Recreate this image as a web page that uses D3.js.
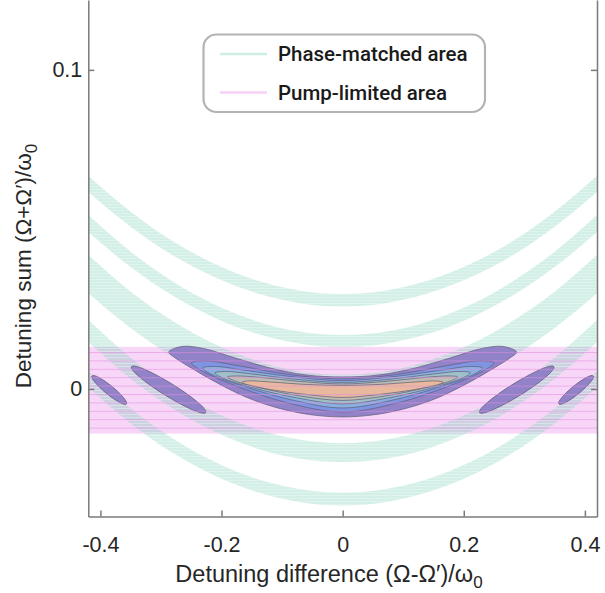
<!DOCTYPE html>
<html>
<head>
<meta charset="utf-8">
<script src="https://cdn.jsdelivr.net/npm/d3@7"></script>
<style>
  html, body { margin: 0; padding: 0; background: #fff; }
  svg { display: block; font-family: "Liberation Sans", Arial, sans-serif; }
</style>
</head>
<body>
<svg id="chart" width="605" height="593"></svg>
<script>
// ---- data ----
const xTicks = [-0.4, -0.2, 0, 0.2, 0.4];
const xTickLabels = ['-0.4', '-0.2', '0', '0.2', '0.4'];
const yTicks = [0, 0.1];
const yTickLabels = ['0', '0.1'];
const legendLabels = ['Phase-matched area', 'Pump-limited area'];

// pump-limited strip (detuning sum limits)
const pumpLimits = [-0.014, 0.0132];

// phase-matched bands: edges sampled at bandX
const bandX = [-0.42, -0.35, -0.28, -0.21, -0.14, -0.07, 0, 0.07, 0.14, 0.21, 0.28, 0.35, 0.42];
const band1Top = [0.0668, 0.0555, 0.0462, 0.0391, 0.0339, 0.0308, 0.0298, 0.0308, 0.0339, 0.0391, 0.0462, 0.0555, 0.0668];
const band1Bot = [0.0618, 0.0508, 0.0418, 0.0349, 0.0299, 0.0269, 0.0259, 0.0269, 0.0299, 0.0349, 0.0418, 0.0508, 0.0618];
const band2Top = [0.0545, 0.0430, 0.0336, 0.0263, 0.0211, 0.0179, 0.0169, 0.0179, 0.0211, 0.0263, 0.0336, 0.0430, 0.0545];
const band2Bot = [0.0492, 0.0382, 0.0292, 0.0222, 0.0172, 0.0142, 0.0132, 0.0142, 0.0172, 0.0222, 0.0292, 0.0382, 0.0492];
const band3Top = [0.0420, 0.0305, 0.0212, 0.0139, 0.0087, 0.0055, 0.0045, 0.0055, 0.0087, 0.0139, 0.0212, 0.0305, 0.0420];
const band3Bot = [0.0301, 0.0191, 0.0101, 0.0031, -0.0019, -0.0049, -0.0059, -0.0049, -0.0019, 0.0031, 0.0101, 0.0191, 0.0301];
const band4Top = [0.0216, 0.0098, 0.0001, -0.0074, -0.0127, -0.0159, -0.0170, -0.0159, -0.0127, -0.0074, 0.0001, 0.0098, 0.0216];
const band4Bot = [0.0147, 0.0032, -0.0062, -0.0135, -0.0187, -0.0219, -0.0229, -0.0219, -0.0187, -0.0135, -0.0062, 0.0032, 0.0147];
const band5Top = [0.0055, -0.0061, -0.0156, -0.0230, -0.0283, -0.0314, -0.0325, -0.0314, -0.0283, -0.0230, -0.0156, -0.0061, 0.0055];
const band5Bot = [0.0005, -0.0108, -0.0201, -0.0273, -0.0324, -0.0355, -0.0365, -0.0355, -0.0324, -0.0273, -0.0201, -0.0108, 0.0005];

// central contour levels, left half outline (top centre -> tip -> bottom centre), mirrored for the right half
const contour1 = [[0, 0.00376], [-0.06, 0.00439], [-0.12, 0.00658], [-0.18, 0.00987], [-0.23, 0.0127], [-0.265, 0.01332], [-0.287, 0.0116],
                  [-0.275, 0.00956], [-0.25, 0.00658], [-0.21, 0.00219], [-0.16, -0.00251], [-0.11, -0.0058], [-0.055, -0.0080], [0, -0.00878]];
const contour2 = [[0, 0.00313], [-0.09, 0.00455], [-0.17, 0.00721], [-0.225, 0.00878], [-0.2496, 0.00815],
                  [-0.235, 0.00596], [-0.18, 0.00125], [-0.09, -0.00439], [0, -0.00721]];
const contour3 = [[0, 0.0026], [-0.08, 0.00376], [-0.16, 0.0058], [-0.21, 0.00705], [-0.231, 0.00658],
                  [-0.218, 0.0047], [-0.165, 0.00094], [-0.08, -0.0036], [0, -0.00596]];
const contour4 = [[0, 0.00204], [-0.075, 0.00298], [-0.15, 0.0047], [-0.195, 0.00549], [-0.211, 0.00502],
                  [-0.198, 0.00345], [-0.15, 0.00047], [-0.075, -0.00282], [0, -0.0047]];
const contour5 = [[0, 0.00157], [-0.07, 0.00235], [-0.135, 0.0036], [-0.175, 0.00408], [-0.19, 0.00376],
                  [-0.178, 0.00251], [-0.135, 0.00031], [-0.07, -0.00219], [0, -0.0036]];
const contour6 = [[0, 0.0011], [-0.06, 0.00141], [-0.12, 0.00219], [-0.155, 0.00251], [-0.1665, 0.00204],
                  [-0.155, 0.00125], [-0.12, -0.00016], [-0.06, -0.00172], [0, -0.00266]];
const contourColors = ['#9283c9', '#7f95e1', '#89b0df', '#9fc0c9', '#bfbdb3', '#e9b99e'];

// side lobes: [x1, y1, x2, y2, thickness (in detuning-sum units)]
const sideLobes = [
  [-0.3488, 0.0070, -0.2260, -0.0074, 0.0041],
  [-0.4139, 0.0041, -0.3570, -0.0047, 0.0028],
  [0.2260, -0.0074, 0.3488, 0.0070, 0.0041],
  [0.3570, -0.0047, 0.4139, 0.0041, 0.0028]
];

// ---- layout ----
const svg = d3.select('#chart');
const x = d3.scaleLinear().domain([-0.42, 0.42]).range([88.3, 597]);
const y = d3.scaleLinear().domain([-0.04, 0.1219]).range([516.6, 0]);
const FONT = '"Liberation Sans", Arial, Helvetica, sans-serif';

const defs = svg.append('defs');
defs.append('clipPath').attr('id', 'plotClip')
  .append('rect')
  .attr('x', x(-0.42)).attr('y', 0)
  .attr('width', x(0.42) - x(-0.42)).attr('height', y(-0.04));

// faint horizontal hatching inside the phase-matched bands
const tealPat = defs.append('pattern').attr('id', 'tealStripes')
  .attr('patternUnits', 'userSpaceOnUse').attr('width', 8).attr('height', 3);
tealPat.append('rect').attr('y', 0).attr('width', 8).attr('height', 1).attr('fill', '#fff').attr('opacity', 0.3);

// pink hatching lines of the pump strip
const pinkPat = defs.append('pattern').attr('id', 'pinkStripes')
  .attr('patternUnits', 'userSpaceOnUse').attr('width', 8).attr('height', 8.4)
  .attr('y', 352);
pinkPat.append('rect').attr('y', 0).attr('width', 8).attr('height', 1).attr('fill', '#e08ae0').attr('opacity', 0.55);

const plot = svg.append('g').attr('clip-path', 'url(#plotClip)');

// pump-limited strip (base)
plot.append('rect')
  .attr('x', x(-0.42)).attr('width', x(0.42) - x(-0.42))
  .attr('y', y(pumpLimits[1])).attr('height', y(pumpLimits[0]) - y(pumpLimits[1]))
  .attr('fill', '#f7d6f7');

// phase-matched bands
const bands = [
  [band1Top, band1Bot], [band2Top, band2Bot], [band3Top, band3Bot],
  [band4Top, band4Bot], [band5Top, band5Bot]
];
const area = d3.area()
  .x(d => x(d.x))
  .y0(d => y(d.lo))
  .y1(d => y(d.hi))
  .curve(d3.curveMonotoneX);
const bandData = bands.map(([hi, lo]) => bandX.map((bx, i) => ({ x: bx, hi: hi[i], lo: lo[i] })));

plot.selectAll('path.band')
  .data(bandData)
  .join('path')
  .attr('class', 'band')
  .attr('d', area)
  .attr('fill', 'rgb(108,202,175)')
  .attr('fill-opacity', 0.3);
plot.selectAll('path.band-hatch')
  .data(bandData)
  .join('path')
  .attr('class', 'band-hatch')
  .attr('d', area)
  .attr('fill', 'url(#tealStripes)');

// side lobes (tilted ellipses along the side bands)
plot.selectAll('ellipse.lobe')
  .data(sideLobes)
  .join('ellipse')
  .attr('class', 'lobe')
  .each(function (d) {
    const x1 = x(d[0]), y1 = y(d[1]), x2 = x(d[2]), y2 = y(d[3]);
    const cx = (x1 + x2) / 2, cy = (y1 + y2) / 2;
    const rx = Math.hypot(x2 - x1, y2 - y1) / 2;
    const ry = (y(0) - y(d[4])) / 2;
    const ang = Math.atan2(y2 - y1, x2 - x1) * 180 / Math.PI;
    d3.select(this)
      .attr('cx', 0).attr('cy', 0).attr('rx', rx).attr('ry', ry)
      .attr('transform', `translate(${cx},${cy}) rotate(${ang})`);
  })
  .attr('fill', contourColors[0])
  .attr('stroke', '#5e5a78')
  .attr('stroke-width', 0.7);

// central contour levels
const ring = pts => pts.concat(pts.slice(1, -1).reverse().map(p => [-p[0], p[1]]));
const contourLine = d3.line()
  .x(d => x(d[0]))
  .y(d => y(d[1]))
  .curve(d3.curveCatmullRomClosed.alpha(0.5));
const contours = [contour1, contour2, contour3, contour4, contour5, contour6];

plot.selectAll('path.level')
  .data(contours)
  .join('path')
  .attr('class', 'level')
  .attr('d', d => contourLine(ring(d)))
  .attr('fill', (d, i) => contourColors[i])
  .attr('stroke', '#5e5a78')
  .attr('stroke-width', 0.7);

// pink hatching over everything in the strip
plot.append('rect')
  .attr('x', x(-0.42)).attr('width', x(0.42) - x(-0.42))
  .attr('y', y(pumpLimits[1])).attr('height', y(pumpLimits[0]) - y(pumpLimits[1]))
  .attr('fill', 'url(#pinkStripes)');

// ---- axes ----
const axisColor = '#7a7a7a';
const gx = svg.append('g')
  .attr('transform', `translate(0,${y(-0.04)})`)
  .call(d3.axisBottom(x).tickValues(xTicks).tickFormat((d, i) => xTickLabels[i])
    .tickSizeInner(-6).tickSizeOuter(0).tickPadding(20));
const gy = svg.append('g')
  .attr('transform', `translate(${x(-0.42)},0)`)
  .call(d3.axisLeft(y).tickValues(yTicks).tickFormat((d, i) => yTickLabels[i])
    .tickSizeInner(-6).tickSizeOuter(0).tickPadding(6));
const gr = svg.append('g')
  .attr('transform', `translate(${x(0.42)},0)`)
  .call(d3.axisRight(y).tickValues(yTicks).tickFormat('')
    .tickSizeInner(-6).tickSizeOuter(0));

[gx, gy, gr].forEach(g => {
  g.select('.domain').attr('stroke', axisColor).attr('stroke-width', 1.5);
  g.selectAll('.tick line').attr('stroke', axisColor).attr('stroke-width', 1.5);
  g.selectAll('.tick text')
    .attr('fill', '#262626')
    .style('font-size', '21.5px')
    .style('font-family', FONT);
});

// axis titles
const xTitle = svg.append('text')
  .attr('x', 329).attr('y', 582)
  .attr('text-anchor', 'middle')
  .attr('fill', '#262626')
  .style('font-family', FONT)
  .style('font-size', '23.5px');
xTitle.append('tspan').text('Detuning difference (Ω-Ω′)/ω');
xTitle.append('tspan').attr('dy', 6).style('font-size', '17px').text('0');

const yTitle = svg.append('text')
  .attr('transform', 'translate(31,266) rotate(-90)')
  .attr('text-anchor', 'middle')
  .attr('fill', '#262626')
  .style('font-family', FONT)
  .style('font-size', '22.5px');
yTitle.append('tspan').text('Detuning sum (Ω+Ω′)/ω');
yTitle.append('tspan').attr('dy', 6).style('font-size', '17px').text('0');

// ---- legend ----
const legend = svg.append('g');
legend.append('rect')
  .attr('x', 203.5).attr('y', 34.5).attr('width', 281.5).attr('height', 77.5)
  .attr('rx', 13).attr('ry', 13)
  .attr('fill', '#fff').attr('stroke', '#b3b3b3').attr('stroke-width', 2.2);
const legendColors = ['#cdeee5', '#f6d0f6'];
legend.selectAll('line.key')
  .data(legendLabels)
  .join('line')
  .attr('class', 'key')
  .attr('x1', 220).attr('x2', 267)
  .attr('y1', (d, i) => 54 + i * 38.5).attr('y2', (d, i) => 54 + i * 38.5)
  .attr('stroke', (d, i) => legendColors[i]).attr('stroke-width', 2.5);
legend.selectAll('text.key')
  .data(legendLabels)
  .join('text')
  .attr('class', 'key')
  .attr('x', 278).attr('y', (d, i) => 61 + i * 38.5)
  .attr('fill', '#1a1a1a')
  .style('font-family', 'Roboto, "Noto Sans", sans-serif')
  .style('font-weight', 500)
  .style('font-size', '20.5px')
  .text(d => d);
</script>
</body>
</html>
